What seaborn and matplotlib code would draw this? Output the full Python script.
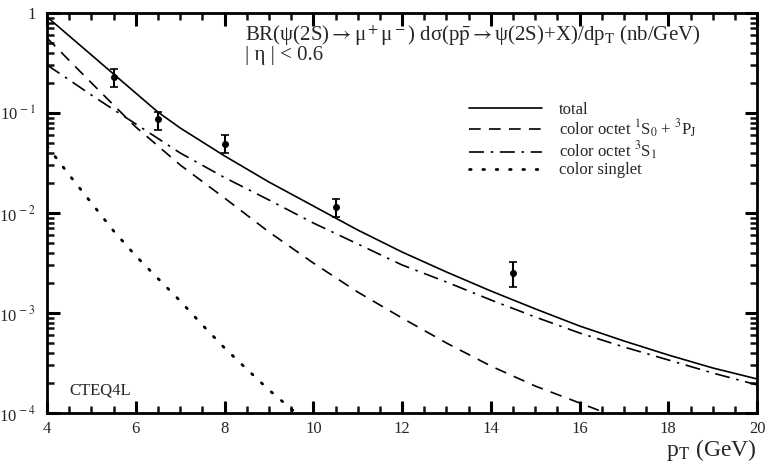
import matplotlib
matplotlib.use("Agg")
import matplotlib.pyplot as plt
import matplotlib.ticker as mticker
import seaborn as sns
import numpy as np
import pandas as pd

# values (nb/GeV)
pt = [4, 4.5, 5, 5.5, 6, 6.5, 7, 8, 9, 10, 11, 12, 13, 14, 15, 16, 17, 18, 19, 20]
total = [0.912, 0.589, 0.380, 0.245, 0.158, 0.102, 0.0708, 0.0372, 0.0204, 0.01175,
         0.00676, 0.00407, 0.00257, 0.00166, 0.00110, 0.000741, 0.000525, 0.000380,
         0.000282, 0.000219]
octet_3s1 = [0.302, 0.214, 0.151, 0.108, 0.0776, 0.0556, 0.0398, 0.0226, 0.0135, 0.00794,
             0.00490, 0.00302, 0.00204, 0.00135, 0.000912, 0.000631, 0.000457, 0.000339,
             0.000251, 0.000191]
pt_octet_1s0 = [4, 4.5, 5, 5.5, 6, 6.5, 7, 8, 9, 10, 11, 12, 13, 14, 15, 16, 17]
octet_1s0 = [0.562, 0.335, 0.200, 0.120, 0.0724, 0.0468, 0.0302, 0.0141, 0.00646, 0.00316,
             0.00162, 0.000891, 0.000501, 0.000295, 0.000186, 0.000126, 0.0000851]
pt_singlet = [4, 4.5, 5, 5.5, 6, 6.5, 7, 7.5, 8, 8.5, 9, 9.5, 10]
singlet = [0.0468, 0.0240, 0.0126, 0.00661, 0.00372, 0.00221, 0.00132, 0.000759,
           0.000447, 0.000275, 0.000170, 0.000110, 0.0000708]

# CDF data points
data_pt = [5.5, 6.5, 8, 10.5, 14.5]
data_y = [0.227, 0.0865, 0.049, 0.0116, 0.00253]
data_hi = [0.273, 0.103, 0.060, 0.0139, 0.00321]
data_lo = [0.181, 0.0676, 0.040, 0.0092, 0.0018]

sns.set_theme(style="ticks", rc={"axes.edgecolor": "black"})
plt.rcParams["font.family"] = ["Liberation Serif", "DejaVu Serif"]
plt.rcParams["mathtext.fontset"] = "stix"

fig = plt.figure(figsize=(7.66, 4.63), dpi=100)
ax = fig.add_axes([0.0614, 0.108, 0.927, 0.864])

curves = [
    ("total", pt, total, "-"),
    ("color octet $^1$S$_0$ + $^3$P$_{\\rm J}$", pt_octet_1s0, octet_1s0, (0, (7, 5))),
    ("color octet $^3$S$_1$", pt, octet_3s1, (0, (9, 4, 1.5, 4))),
    ("color singlet", pt_singlet, singlet, (0, (0.6, 4.2))),
]
for label, xs, ys, ls in curves:
    df = pd.DataFrame({"pt": xs, "y": ys})
    lw = 2.0 if label == "color singlet" else 1.2
    sns.lineplot(data=df, x="pt", y="y", ax=ax, color="black", linewidth=lw,
                 label=label, estimator=None, sort=False)
    line = ax.get_lines()[-1]
    line.set_linestyle(ls)
    if label == "color singlet":
        line.set_dash_capstyle("round")

yerr = [np.array(data_y) - np.array(data_lo), np.array(data_hi) - np.array(data_y)]
ax.errorbar(data_pt, data_y, yerr=yerr, fmt="o", color="black", markersize=4,
            elinewidth=1.5, capsize=3, capthick=1.2)

ax.set_yscale("log")
ax.set_xlim(4, 20)
ax.set_ylim(1e-4, 1)
ax.xaxis.set_major_locator(mticker.MultipleLocator(2))
ax.xaxis.set_minor_locator(mticker.MultipleLocator(0.5))
ax.yaxis.set_major_locator(mticker.FixedLocator([1e-4, 1e-3, 1e-2, 1e-1, 1]))
ax.yaxis.set_minor_locator(mticker.LogLocator(base=10, subs=np.arange(2, 10), numticks=10))
ax.yaxis.set_minor_formatter(mticker.NullFormatter())
ax.set_yticklabels([r"10$^{\,-4}$", r"10$^{\,-3}$", r"10$^{\,-2}$", r"10$^{\,-1}$", "1"])
ax.tick_params(which="both", direction="in", top=True, right=True, bottom=True, left=True,
               labelsize=12)
ax.tick_params(axis="x", which="major", length=9, width=2.2, color="black")
ax.tick_params(axis="y", which="major", length=9, width=2.2, color="black")
ax.tick_params(which="minor", length=5, width=1.8, color="#111111")
ax.tick_params(axis="y", pad=8)
ax.tick_params(axis="x", pad=6)
for s in ax.spines.values():
    s.set_linewidth(2.0)

ax.set_xlabel("p$_{\\rm T}$ (GeV)", fontsize=17, loc="right", labelpad=0)
ax.set_ylabel("")

ax.text(0.279, 0.9425,
        "BR(ψ(2S)$\\rightarrow$μ$^+$μ$^-$) dσ(p$\\bar{\\rm p}$$\\rightarrow$ψ(2S)+X)/dp$_{\\rm T}$ (nb/GeV)",
        transform=ax.transAxes, fontsize=15, va="center")
ax.text(0.279, 0.8925, "| η | < 0.6", transform=ax.transAxes, fontsize=15, va="center")
ax.text(0.032, 0.057, "CTEQ4L", transform=ax.transAxes, fontsize=12, va="center")

ax.legend(loc="upper left", bbox_to_anchor=(0.585, 0.795), frameon=False, fontsize=12,
          handlelength=4.4, handletextpad=1.0, labelspacing=0.0, borderaxespad=0)

fig.savefig("out.png", dpi=100)
